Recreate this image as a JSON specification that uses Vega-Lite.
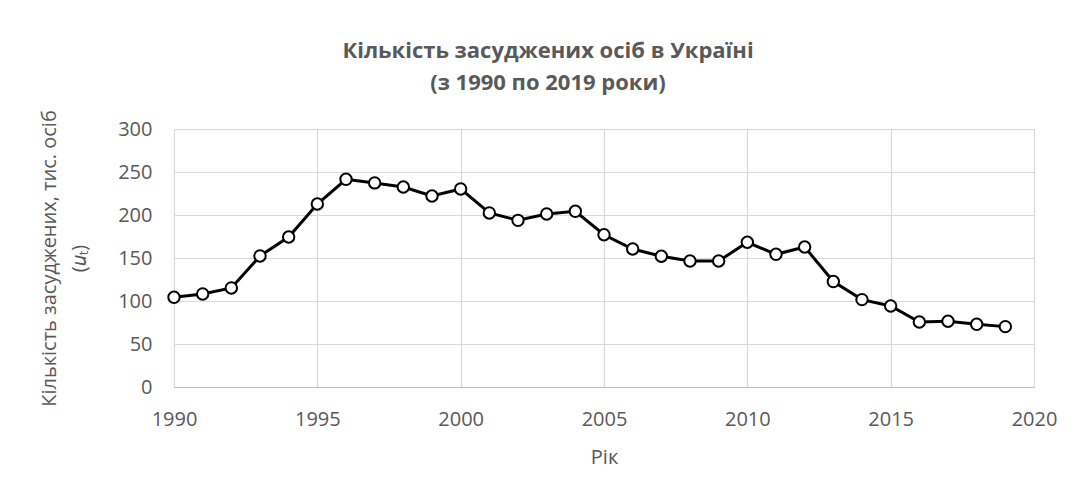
{
  "$schema": "https://vega.github.io/schema/vega-lite/v6.json",
  "width": 860,
  "height": 258,
  "autosize": "none",
  "padding": {"left": 174, "top": 129, "right": 44, "bottom": 111},
  "background": "white",
  "title": {
    "text": ["Кількість засуджених осіб в Україні", "(з 1990 по 2019 роки)"],
    "font": "Open Sans",
    "fontSize": 22,
    "fontWeight": "bold",
    "color": "#595959",
    "anchor": "middle",
    "frame": "group",
    "dx": -56,
    "lineHeight": 32,
    "offset": 15
  },
  "config": {
    "view": {"stroke": null},
    "axis": {
      "labelFont": "Open Sans",
      "titleFont": "Open Sans",
      "labelColor": "#595959",
      "titleColor": "#595959",
      "labelFontSize": 20,
      "titleFontSize": 20,
      "titleFontWeight": "normal",
      "gridColor": "#d9d9d9",
      "gridWidth": 1.2,
      "ticks": false,
      "tickSize": 0
    }
  },
  "data": {
    "values": [
      {"year": 1990, "value": 104.3},
      {"year": 1991, "value": 108.2},
      {"year": 1992, "value": 115.2},
      {"year": 1993, "value": 152.4},
      {"year": 1994, "value": 174.4},
      {"year": 1995, "value": 212.8},
      {"year": 1996, "value": 241.5},
      {"year": 1997, "value": 237.3},
      {"year": 1998, "value": 232.6},
      {"year": 1999, "value": 222.1},
      {"year": 2000, "value": 230.3},
      {"year": 2001, "value": 202.4},
      {"year": 2002, "value": 193.8},
      {"year": 2003, "value": 201.2},
      {"year": 2004, "value": 204.3},
      {"year": 2005, "value": 177.0},
      {"year": 2006, "value": 160.5},
      {"year": 2007, "value": 152.0},
      {"year": 2008, "value": 146.5},
      {"year": 2009, "value": 146.5},
      {"year": 2010, "value": 168.3},
      {"year": 2011, "value": 154.3},
      {"year": 2012, "value": 162.8},
      {"year": 2013, "value": 122.6},
      {"year": 2014, "value": 101.6},
      {"year": 2015, "value": 94.2},
      {"year": 2016, "value": 75.6},
      {"year": 2017, "value": 76.4},
      {"year": 2018, "value": 72.9},
      {"year": 2019, "value": 70.2}
    ]
  },
  "encoding": {
    "x": {
      "field": "year",
      "type": "quantitative",
      "scale": {"domain": [1990, 2020], "nice": false, "zero": false},
      "axis": {
        "title": "Рік",
        "values": [1990, 1995, 2000, 2005, 2010, 2015, 2020],
        "format": "d",
        "domain": true,
        "domainColor": "#bfbfbf",
        "domainWidth": 1.2,
        "labelPadding": 22,
        "titlePadding": 18,
        "labelFlush": false
      }
    },
    "y": {
      "field": "value",
      "type": "quantitative",
      "scale": {"domain": [0, 300], "nice": false},
      "axis": {
        "title": ["Кількість засуджених, тис. осіб", "(𝑢ₜ)"],
        "values": [0, 50, 100, 150, 200, 250, 300],
        "domain": false,
        "labelPadding": 22,
        "titlePadding": 28,
        "titleLineHeight": 30
      }
    }
  },
  "layer": [
    {"mark": {"type": "line", "color": "black", "strokeWidth": 3}},
    {"mark": {"type": "point", "shape": "circle", "filled": true, "fill": "white", "stroke": "black", "strokeWidth": 2, "size": 130, "opacity": 1}}
  ]
}
